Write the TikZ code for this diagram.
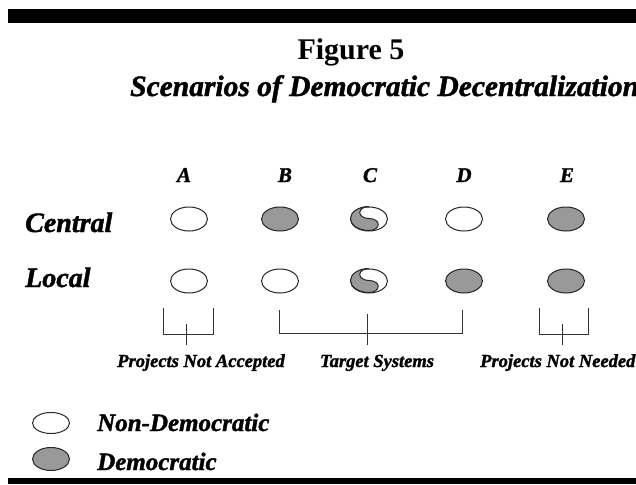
\documentclass[tikz,border=0pt]{standalone}
\usepackage{fontspec}
\setmainfont{Liberation Serif}[BoldItalicFeatures={FakeBold=1.5}]
\usetikzlibrary{shapes.geometric}
\definecolor{demgray}{RGB}{153,153,153}

\newcommand{\bi}[1]{\bfseries\itshape\fontsize{#1}{#1}\selectfont}

\begin{document}
\begin{tikzpicture}[x=1pt,y=-1pt,
every node/.style={inner sep=0pt},
nondem/.style={ellipse,draw=black!85,line width=1pt,fill=white,
  minimum width=37pt,minimum height=24pt},
dem/.style={nondem,fill=demgray},
colhead/.style={anchor=base,font=\bi{21}},
rowhead/.style={anchor=base west,font=\bi{28}},
grouplabel/.style={anchor=base,font=\bi{18.5}},
legendtext/.style={anchor=base west,font=\bi{25}},
brace/.style={draw=black!80,line width=0.9pt}]
\clip (0,0) rectangle (636,484);
\fill[white] (0,0) rectangle (636,484);
% bars
\fill[black] (8,9) rectangle (636,23);
\fill[black] (8,478) rectangle (636,484);
% title
\node[anchor=base,font=\bfseries\fontsize{30}{30}\selectfont] (fig) at (351,60) {Figure 5};
\node[anchor=base west,font=\bi{29.5}] (subtitle) at (130,96) {Scenarios of Democratic Decentralization};
% columns
\foreach \n/\x in {A/184,B/285,C/370,D/464,E/567}
  \node[colhead] (head\n) at (\x,182) {\n};
\node[rowhead] (central) at (25,232) {Central};
\node[rowhead] (local) at (25,287) {Local};
% scenarios
\node[nondem] (cA) at (189,219) {};
\node[dem]    (cB) at (280,219) {};
\node[nondem] (cC) at (369,219) {};
\node[nondem] (cD) at (464,219) {};
\node[dem]    (cE) at (566,219) {};
\node[nondem] (lA) at (189,281) {};
\node[nondem] (lB) at (280,281) {};
\node[nondem] (lC) at (369,281) {};
\node[dem]    (lD) at (464,281) {};
\node[dem]    (lE) at (566,281) {};
% mixed systems
\foreach \m in {cC,lC}
  \filldraw[fill=demgray,draw=black!85,line width=1pt] (\m.north)
    arc[start angle=270,end angle=90,x radius=18.5,y radius=12]
    arc[start angle=90,end angle=-90,x radius=9.25,y radius=6]
    arc[start angle=90,end angle=270,x radius=9.25,y radius=6];
% groups
\draw[brace] (163,308) |- (213,334) -- (213,308) (186,324) -- (186,345);
\draw[brace] (279,310) |- (462,333) -- (462,310) (367,314) -- (367,345);
\draw[brace] (539,308) |- (588,334) -- (588,308) (562,324) -- (562,345);
\node[grouplabel] (notacc) at (201,367) {Projects Not Accepted};
\node[grouplabel] (target) at (377,367) {Target Systems};
\node[grouplabel,anchor=base west] (notneed) at (480,367) {Projects Not Needed};
% legend
\node[nondem,minimum height=21pt] (keynon) at (51,423) {};
\node[dem,minimum height=23pt] (keydem) at (51,459) {};
\node[legendtext] (nontext) at (97,431) {Non-Democratic};
\node[legendtext] (demtext) at (97,470) {Democratic};
\end{tikzpicture}
\end{document}
